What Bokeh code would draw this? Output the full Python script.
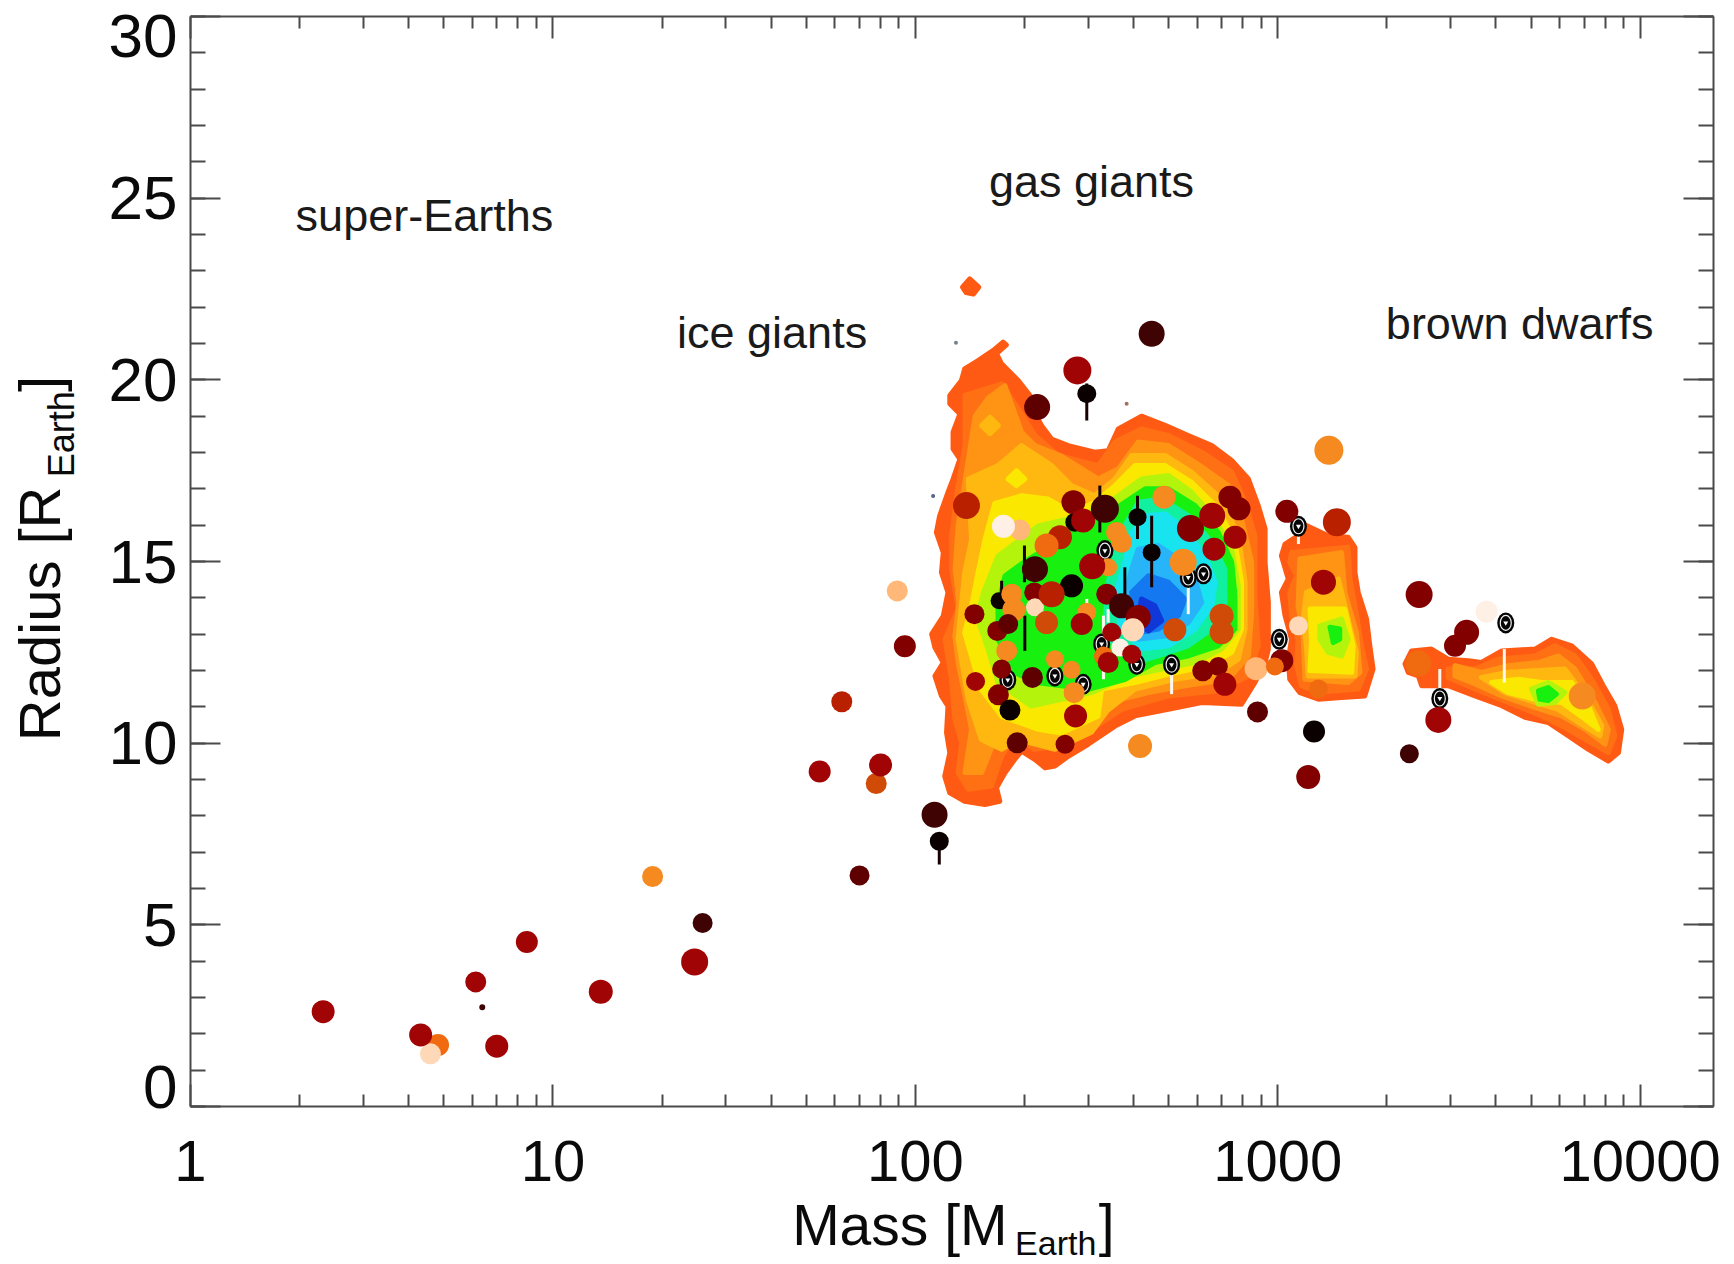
from math import pi
from bokeh.plotting import figure
from bokeh.models import ColumnDataSource, FixedTicker, LogAxis, LinearAxis
from bokeh.core.properties import value
from bokeh.embed import file_html
from bokeh.resources import INLINE

# ---- axes ----
x_tick_values = [1, 10, 100, 1000, 10000]
x_tick_labels = ["1", "10", "100", "1000", "10000"]
x_minor_values = [m * d for d in (1, 10, 100, 1000, 10000) for m in range(2, 10)]
y_tick_values = [0, 5, 10, 15, 20, 25, 30]
y_minor_values = list(range(0, 31))
y_label_at = [0.55, 5, 10, 15, 20, 25, 29.45]
y_tick_labels = ["0", "5", "10", "15", "20", "25", "30"]
regions = ["super-Earths", "gas giants", "ice giants", "brown dwarfs"]
region_mass = [1.95, 159.6, 22.0, 1987.0]
region_radius = [24.53, 25.47, 21.3, 21.54]

# ---- density contours: (log10 mass, radius) vertices ----
main_1 = [(2.242,21.04),(2.251,20.96),(2.224,20.72),(2.238,20.44),(2.284,19.98),(2.320,19.52),(2.334,19.02),(2.348,18.74),(2.376,18.37),(2.422,18.19),(2.495,18.01),(2.532,18.05),(2.560,18.65),(2.624,19.00),(2.689,18.75),(2.753,18.47),(2.818,18.19),(2.873,17.78),(2.919,17.27),(2.946,16.54),(2.965,15.90),(2.965,14.98),(2.974,13.87),(2.974,12.59),(2.965,12.22),(2.937,11.67),(2.900,11.07),(2.790,11.12),(2.698,10.93),(2.606,10.75),(2.551,10.47),(2.477,9.97),(2.422,9.64),(2.385,9.37),(2.358,9.32),(2.330,9.55),(2.293,9.78),(2.274,9.55),(2.247,9.18),(2.224,8.77),(2.233,8.40),(2.192,8.31),(2.136,8.40),(2.095,8.63),(2.081,9.09),(2.095,9.73),(2.086,10.29),(2.090,11.02),(2.072,11.30),(2.054,11.85),(2.077,12.22),(2.054,12.63),(2.045,13.00),(2.077,13.50),(2.090,14.15),(2.072,14.70),(2.077,15.25),(2.058,15.80),(2.067,16.26),(2.090,16.90),(2.104,17.27),(2.123,17.82),(2.104,18.10),(2.104,18.56),(2.123,19.06),(2.095,19.34),(2.095,19.57),(2.127,19.98),(2.136,20.30),(2.173,20.53),(2.215,20.81)]
main_2 = [(2.137,19.57),(2.238,19.89),(2.284,19.20),(2.330,18.47),(2.394,17.92),(2.505,17.64),(2.551,18.29),(2.624,18.65),(2.698,18.47),(2.790,18.01),(2.873,17.46),(2.910,16.63),(2.937,15.71),(2.937,14.06),(2.946,12.68),(2.919,11.85),(2.836,11.44),(2.698,11.30),(2.569,10.93),(2.486,10.38),(2.394,9.92),(2.330,9.83),(2.275,10.20),(2.238,9.65),(2.210,8.82),(2.146,8.73),(2.118,9.19),(2.128,10.01),(2.109,10.66),(2.100,11.76),(2.082,12.86),(2.118,13.69),(2.100,14.79),(2.100,15.71),(2.118,17.09),(2.137,18.19)]
main_3 = [(2.118,15.98),(2.155,18.37),(2.165,19.00),(2.201,19.50),(2.247,19.84),(2.293,18.56),(2.330,18.19),(2.403,17.90),(2.505,17.27),(2.560,17.55),(2.615,18.29),(2.698,18.19),(2.772,17.73),(2.864,17.09),(2.900,16.17),(2.928,14.98),(2.928,13.60),(2.919,12.40),(2.864,11.76),(2.744,11.58),(2.643,11.39),(2.532,11.12),(2.459,10.57),(2.385,10.20),(2.330,10.11),(2.275,10.57),(2.220,10.11),(2.183,9.19),(2.137,9.19),(2.155,10.38),(2.137,11.30),(2.118,12.22),(2.109,12.95),(2.120,13.87),(2.110,14.79)]
main_4 = [(2.146,17.27),(2.228,17.64),(2.293,18.19),(2.376,17.64),(2.430,17.09),(2.495,16.81),(2.551,17.27),(2.597,17.92),(2.689,17.92),(2.762,17.46),(2.845,16.72),(2.891,15.71),(2.910,14.43),(2.910,13.14),(2.891,12.31),(2.836,11.94),(2.716,11.76),(2.606,11.49),(2.530,10.90),(2.486,10.30),(2.385,9.83),(2.283,10.10),(2.238,9.83),(2.182,10.10),(2.146,11.20),(2.118,12.86),(2.136,14.70),(2.155,15.60)]
main_4b = [(2.183,18.74),(2.206,18.97),(2.229,18.74),(2.206,18.52)]
main_5 = [(2.219,16.60),(2.293,16.81),(2.366,16.72),(2.430,16.35),(2.496,16.63),(2.551,17.09),(2.606,17.64),(2.689,17.64),(2.762,17.18),(2.836,16.45),(2.882,15.53),(2.900,14.43),(2.900,13.14),(2.873,12.50),(2.808,12.13),(2.716,11.94),(2.606,11.67),(2.514,11.49),(2.504,10.74),(2.403,10.28),(2.339,10.38),(2.238,10.74),(2.182,11.48),(2.136,13.04),(2.155,13.78),(2.173,14.70),(2.192,15.60)]
main_5b = [(2.256,17.27),(2.279,17.50),(2.302,17.27),(2.279,17.09)]
main_6 = [(2.169,13.50),(2.190,14.20),(2.228,15.15),(2.339,15.98),(2.422,16.17),(2.505,16.45),(2.560,16.81),(2.624,17.27),(2.698,17.37),(2.762,16.91),(2.827,16.17),(2.873,15.34),(2.891,14.33),(2.891,13.14),(2.845,12.59),(2.772,12.22),(2.680,12.04),(2.588,11.85),(2.486,11.39),(2.320,11.02),(2.228,11.66),(2.200,12.60)]
main_7 = [(2.228,13.80),(2.247,14.60),(2.302,15.00),(2.385,15.50),(2.450,15.99),(2.523,16.26),(2.578,16.63),(2.634,17.00),(2.698,17.00),(2.772,16.54),(2.836,15.80),(2.873,14.98),(2.882,14.06),(2.882,13.14),(2.836,12.68),(2.753,12.40),(2.661,12.22),(2.578,11.75),(2.477,11.48),(2.339,11.66),(2.274,11.94),(2.228,12.86)]
main_8 = [(2.532,14.43),(2.551,15.16),(2.578,15.99),(2.615,16.63),(2.680,16.72),(2.753,16.26),(2.818,15.53),(2.854,14.79),(2.854,13.78),(2.818,13.14),(2.753,12.68),(2.670,12.40),(2.606,12.22),(2.551,12.59),(2.523,13.32)]
main_9 = [(2.551,14.06),(2.578,14.98),(2.597,15.80),(2.634,16.26),(2.689,16.31),(2.744,15.90),(2.799,15.16),(2.827,14.43),(2.818,13.78),(2.772,13.14),(2.698,12.68),(2.624,12.59),(2.569,13.14)]
main_10 = [(2.578,14.06),(2.597,14.79),(2.615,15.34),(2.670,15.44),(2.726,15.07),(2.772,14.52),(2.790,13.87),(2.753,13.32),(2.689,12.95),(2.615,12.86),(2.588,13.41)]
main_11 = [(2.597,14.15),(2.643,14.61),(2.698,14.43),(2.744,13.97),(2.726,13.51),(2.670,13.14),(2.624,13.05),(2.606,13.51)]
main_12 = [(2.624,13.97),(2.661,13.78),(2.680,13.37),(2.643,13.09),(2.611,13.32)]
second_1 = [(3.056,16.08),(3.079,15.99),(3.139,15.71),(3.194,15.67),(3.213,15.39),(3.213,14.70),(3.222,14.15),(3.245,13.42),(3.254,12.68),(3.263,12.04),(3.240,11.30),(3.176,11.26),(3.112,11.21),(3.061,11.39),(3.033,11.76),(3.029,12.31),(3.038,12.86),(3.020,13.51),(3.010,14.15),(3.029,14.52),(3.010,15.16),(3.020,15.48),(3.056,15.71)]
second_2 = [(3.038,15.25),(3.194,15.39),(3.199,14.52),(3.213,13.78),(3.231,12.68),(3.245,12.04),(3.222,11.49),(3.112,11.40),(3.066,11.58),(3.052,12.13),(3.056,12.86),(3.038,13.51),(3.033,14.15),(3.052,14.61),(3.033,14.98)]
second_3 = [(3.061,15.07),(3.176,15.25),(3.185,14.15),(3.217,13.05),(3.227,11.95),(3.194,11.67),(3.075,11.76),(3.070,12.96),(3.056,13.78)]
second_4 = [(3.079,14.15),(3.167,14.52),(3.194,13.42),(3.217,12.50),(3.213,11.85),(3.084,11.85),(3.079,12.68),(3.070,13.42)]
second_5 = [(3.089,13.69),(3.185,13.69),(3.208,12.68),(3.204,11.95),(3.089,12.00),(3.093,12.86)]
second_6 = [(3.116,13.23),(3.176,13.42),(3.194,12.86),(3.176,12.40),(3.139,12.50),(3.116,12.86)]
second_7 = [(3.144,13.19),(3.171,13.14),(3.171,12.86),(3.153,12.77)]
third_1 = [(3.351,12.18),(3.369,12.54),(3.424,12.59),(3.470,12.31),(3.526,12.27),(3.562,12.22),(3.618,12.54),(3.710,12.59),(3.756,12.86),(3.811,12.68),(3.866,12.18),(3.898,11.58),(3.930,11.03),(3.949,10.38),(3.940,9.74),(3.912,9.51),(3.857,9.83),(3.802,10.20),(3.746,10.57),(3.682,10.71),(3.618,11.03),(3.544,11.30),(3.470,11.58),(3.397,11.58),(3.388,11.85),(3.360,11.95)]
third_2 = [(3.470,12.04),(3.544,12.04),(3.608,12.31),(3.710,12.40),(3.765,12.68),(3.820,12.40),(3.866,11.76),(3.912,10.93),(3.930,10.20),(3.912,9.74),(3.857,10.06),(3.792,10.43),(3.728,10.75),(3.636,11.12),(3.544,11.49),(3.470,11.81)]
third_3 = [(3.489,12.13),(3.562,11.95),(3.636,12.13),(3.719,12.22),(3.774,12.40),(3.820,12.04),(3.875,11.12),(3.912,10.38),(3.903,9.97),(3.848,10.38),(3.783,10.75),(3.710,10.98),(3.618,11.30),(3.535,11.67),(3.489,11.85)]
third_4 = [(3.562,11.81),(3.636,11.95),(3.719,12.00),(3.792,12.04),(3.848,11.30),(3.894,10.48),(3.889,10.20),(3.838,10.52),(3.774,10.93),(3.710,11.12),(3.627,11.39)]
third_5 = [(3.590,11.67),(3.664,11.76),(3.728,11.67),(3.811,11.67),(3.857,11.03),(3.884,10.38),(3.848,10.66),(3.783,11.12),(3.710,11.21),(3.636,11.39)]
third_6 = [(3.700,11.49),(3.746,11.67),(3.792,11.40),(3.765,11.12),(3.719,11.07)]
third_7 = [(3.719,11.44),(3.746,11.53),(3.769,11.35),(3.746,11.17),(3.723,11.21)]
spot_top = [(2.130,22.55),(2.150,22.78),(2.175,22.55),(2.160,22.36),(2.140,22.40)]

level_colors = {1: "#ff5a14", 2: "#ff7014", 3: "#ff9414", 4: "#ffb80f", 5: "#fbe800", 6: "#b4f40c",
                7: "#18f010", 8: "#10f0a0", 9: "#18e4f0", 10: "#28b4f8", 11: "#1478f0", 12: "#1038d8"}
contours = [(main_1, 1), (spot_top, 1), (second_1, 1), (third_1, 1),
            (main_2, 2), (second_2, 2), (third_2, 2),
            (main_3, 3), (second_3, 3), (third_3, 3),
            (main_4, 4), (main_4b, 4), (second_4, 4), (third_4, 4),
            (main_5, 5), (main_5b, 5), (second_5, 5), (third_5, 5),
            (main_6, 6), (second_6, 6), (third_6, 6),
            (main_7, 7), (second_7, 7), (third_7, 7),
            (main_8, 8), (main_9, 9), (main_10, 10), (main_11, 11), (main_12, 12)]

# ---- planets (draw order) ----
pt_logmass = [0.366,0.683,0.662,0.635,0.845,0.787,0.805,0.928,1.132,1.391,1.275,1.413,1.736,1.797,1.846,1.892,1.904,1.950,1.971,2.066,2.053,
              2.652,2.473,2.447,2.336,2.141,2.289,2.243,2.440,2.436,2.463,2.523,2.399,2.362,2.555,2.569,2.613,2.652,2.686,2.759,2.819,2.868,2.893,2.882,2.824,2.739,
              2.330,2.532,2.488,2.431,2.528,2.569,2.615,2.231,2.328,2.330,2.376,2.266,2.272,2.163,2.226,2.256,2.362,2.473,2.459,2.542,2.600,2.716,2.845,2.845,2.565,
              2.252,2.385,2.519,2.532,2.597,2.793,2.836,2.854,2.238,2.323,2.431,2.438,2.166,2.229,2.261,2.442,2.281,2.413,2.620,2.944,3.100,3.084,3.011,2.940,2.992,
              3.057,3.126,3.163,3.025,3.141,3.112,3.390,3.576,3.521,3.489,3.388,3.443,3.363,3.840]
pt_radius = [2.61,1.69,1.45,1.97,1.66,3.43,2.73,4.53,3.16,3.98,6.33,5.05,9.22,11.14,6.36,8.89,9.40,14.19,12.67,7.30,8.03,
             21.27,19.62,20.26,19.25,16.54,15.87,15.97,16.08,16.63,16.13,16.45,15.67,15.44,15.80,15.53,16.22,15.25,16.77,15.91,16.26,16.77,16.45,15.67,15.34,14.98,
             14.79,14.84,14.87,14.33,14.10,13.78,13.46,13.92,14.15,13.74,14.10,14.10,13.67,13.55,13.09,13.28,13.32,13.60,13.28,13.05,13.12,13.12,13.51,13.05,12.63,
             12.54,12.31,12.40,12.22,12.45,11.99,12.11,11.62,12.04,11.81,12.02,11.39,11.70,11.33,10.91,10.75,10.01,9.97,9.92,10.86,10.32,9.07,12.27,12.05,12.11,
             13.23,14.43,16.08,16.38,18.06,11.49,14.09,13.62,13.05,12.68,12.19,10.64,9.71,11.30]
pt_class = ["e","h","k","e","e","e","b","e","e","e","i","b","e","f","c","g","e","j","d","a","b",
            "b","a","e","c","f","j","l","a","d","e","b","f","h","i","i","a","a","i","d","e","d","d","e","e","i",
            "b","i","e","a","d","b","d","a","d","k","f","i","i","d","d","c","g","i","e","e","k","g","g","g","l",
            "i","i","h","e","e","d","d","e","d","c","i","i","e","d","a","e","c","d","i","c","a","d","d","j","h",
            "k","e","f","d","i","h","d","l","d","d","h","e","b","i"]
pt_size = [23,22,21,23,23,21,6,22,24,27,21,20,22,21,20,21,23,21,22,19,26,
           26,19,28,26,27,21,23,19,24,24,28,24,24,21,21,18,18,23,27,26,23,23,23,23,27,
           26,18,26,23,21,25,25,17,20,18,26,21,23,20,20,20,23,19,22,19,23,23,24,24,18,
           21,18,19,21,19,21,19,23,19,21,18,21,19,21,21,23,21,19,24,21,22,24,23,23,18,
           19,25,28,23,29,19,27,22,25,22,26,26,19,27]
class_colors = {"a": "#0a0000", "b": "#3f0303", "c": "#5e0000", "d": "#820000", "e": "#a00404", "f": "#b82000",
                "g": "#d04a08", "h": "#f06a10", "i": "#f58a20", "j": "#ffb878", "k": "#ffd8b8", "l": "#fff0e6"}

ring_logmass = [2.795,2.753,2.523,2.514,2.611,2.707,2.255,2.385,2.463,3.004,3.057,3.629,3.447]
ring_radius = [14.66,14.56,15.30,12.73,12.17,12.16,11.74,11.85,11.62,12.86,15.97,13.31,11.23]

err_dark_logmass = [2.473,2.509,2.613,2.652,2.301,2.578,2.238,2.302,2.066]
err_dark_low = [18.88,15.80,15.62,14.29,14.43,14.06,13.69,12.54,6.66]
err_dark_high = [19.90,17.09,16.81,16.26,15.44,14.84,14.47,13.51,7.50]
err_white_logmass = [2.753,2.707,3.625,3.447,2.519,3.057,2.473,2.532]
err_white_low = [13.55,11.35,11.67,11.49,11.76,15.48,13.42,13.32]
err_white_high = [14.56,12.16,12.59,12.04,13.51,15.71,13.97,13.69]

speck_logmass = [2.112,2.583,2.049]
speck_radius = [21.02,19.34,16.80]
speck_colors = ["#778088","#a07060","#506088"]

FONT = "Liberation Sans"
AXIS = "#4a4a4a"
TEXT = "#0a0a0a"

p = figure(x_axis_type="log", x_range=(1, 15930), y_range=(0, 30), width=1734, height=1264,
           min_border_left=190, min_border_right=21, min_border_top=16, min_border_bottom=157,
           output_backend="svg", toolbar_location=None, background_fill_color="white",
           border_fill_color="white", outline_line_color=None)
p.grid.visible = False

x_ticker = FixedTicker(ticks=x_tick_values, minor_ticks=x_minor_values)
y_ticker = FixedTicker(ticks=y_tick_values, minor_ticks=y_minor_values)


def style(ax, major, minor):
    ax.axis_line_color = AXIS
    ax.axis_line_width = 2
    ax.major_tick_line_color = AXIS
    ax.minor_tick_line_color = AXIS
    ax.major_tick_line_width = 2
    ax.minor_tick_line_width = 2
    ax.major_tick_in = major
    ax.major_tick_out = 0
    ax.minor_tick_in = minor
    ax.minor_tick_out = 0
    ax.major_label_text_font_size = "0px"
    ax.major_label_text_color = None
    ax.major_label_standoff = 0


xa = p.xaxis[0]
xa.ticker = x_ticker
style(xa, 22, 12)
ya = p.yaxis[0]
ya.ticker = y_ticker
style(ya, 30, 15)

top = LogAxis(ticker=x_ticker)
style(top, 22, 12)
p.add_layout(top, "above")
right = LinearAxis(ticker=y_ticker)
style(right, 30, 15)
p.add_layout(right, "right")


def text_axis(side, where, texts, size, standoff, vertical=False):
    """A bare axis in the stack beside the frame: its tick labels are the pieces of text."""
    cls = LinearAxis if side == "left" else LogAxis
    ax = cls(ticker=FixedTicker(ticks=where),
             axis_line_color=None, major_tick_line_color=None, minor_tick_line_color=None,
             major_tick_in=0, major_tick_out=0, minor_tick_in=0, minor_tick_out=0,
             major_label_overrides=dict(zip(where, texts)), major_label_text_font=FONT,
             major_label_text_font_size=size, major_label_text_color=TEXT,
             major_label_standoff=standoff)
    if vertical:
        ax.major_label_orientation = "vertical"
    p.add_layout(ax, side)


# left stack: digits, title, subscript
text_axis("left", y_label_at, y_tick_labels, "62px", 13)
text_axis("left", [13.56, 19.89], ["Radius [R", "]"], "58px", 33, vertical=True)
text_axis("left", [18.5], ["Earth"], "36px", -78, vertical=True)
# bottom stack: subscript, title, digits
text_axis("below", [244.0], ["Earth"], "34px", 117)
text_axis("below", [90.6, 337.0], ["Mass [M", "]"], "57px", -72)
text_axis("below", x_tick_values, x_tick_labels, "58px", -124)

# contours
p.patches(xs=[[10 ** v[0] for v in c] for c, _ in contours],
          ys=[[v[1] for v in c] for c, _ in contours],
          fill_color=[level_colors[k] for _, k in contours],
          line_color=[level_colors[k] for _, k in contours],
          line_width=5, line_join="round")

p.scatter(x=[10 ** v for v in speck_logmass], y=speck_radius, size=4, color=speck_colors, line_color=None)

# error bars
p.segment(x0=[10 ** v for v in err_white_logmass], y0=err_white_low,
          x1=[10 ** v for v in err_white_logmass], y1=err_white_high, line_color="#fff8f0", line_width=3)
p.segment(x0=[10 ** v for v in err_dark_logmass], y0=err_dark_low,
          x1=[10 ** v for v in err_dark_logmass], y1=err_dark_high, line_color="#160000", line_width=3)

# ringed points
ring_x = [10 ** v for v in ring_logmass]
p.ellipse(x=ring_x, y=ring_radius, width=17, height=21, width_units="screen", height_units="screen",
          fill_color="#050505", line_color=None)
p.ellipse(x=ring_x, y=ring_radius, width=11, height=15, width_units="screen", height_units="screen",
          fill_color=None, line_color="#f0f0f0", line_width=1.2)
p.scatter(x=ring_x, y=ring_radius, marker="inverted_triangle", size=5, fill_color="white", line_color=None)

# planets
src = ColumnDataSource(dict(
    mass=[10 ** v for v in pt_logmass],
    radius=pt_radius,
    color=[class_colors[c] for c in pt_class],
    size=pt_size,
))
p.scatter("mass", "radius", source=src, size="size", fill_color="color", line_color=None)

# region names
p.text(x=region_mass, y=region_radius, text=regions, text_font=value(FONT), text_font_size="45px",
       text_color="#1a1a1a", text_align="left", text_baseline="middle")

open("out.html", "w").write(file_html(p, INLINE))
